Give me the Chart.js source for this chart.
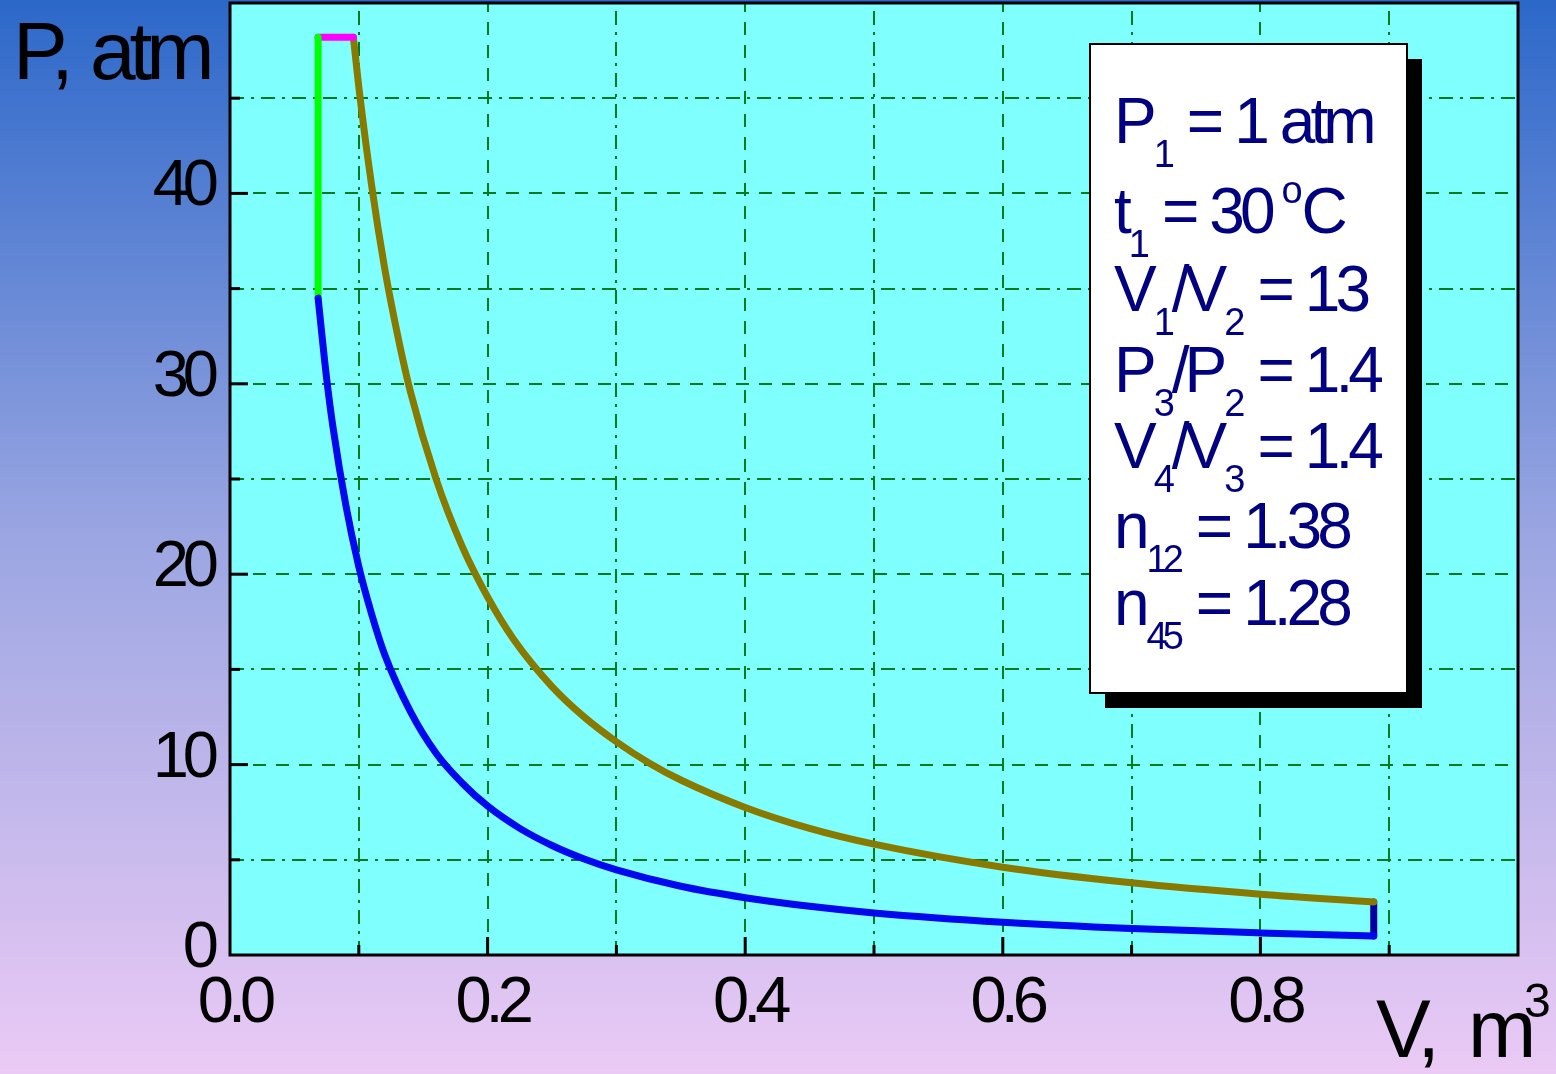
<!DOCTYPE html>
<html>
<head>
<meta charset="utf-8">
<script src="https://cdn.jsdelivr.net/npm/chart.js@4"></script>
<style>
  html, body { margin: 0; padding: 0; background: #fff; }
  canvas { display: block; }
</style>
</head>
<body>
<canvas id="pvChart" width="1556" height="1074"></canvas>
<script>
// 1-2 polytropic compression (n = 1.38), volume in m3, pressure in atm
const compressionV = [0.0684, 0.075, 0.08, 0.09, 0.1, 0.11, 0.12, 0.14, 0.16, 0.18, 0.2, 0.225, 0.25, 0.275, 0.3, 0.35, 0.4, 0.45, 0.5, 0.6, 0.7, 0.8, 0.888];
const compressionP = [34.5, 30.3, 27.7, 23.6, 20.4, 17.9, 15.8, 12.8, 10.6, 9.05, 7.82, 6.65, 5.75, 5.04, 4.47, 3.61, 3.01, 2.56, 2.21, 1.72, 1.39, 1.16, 1.0];
// 2-3 constant volume heat addition
const isochoricV = [0.0684, 0.0684];
const isochoricP = [34.5, 48.2];
// 3-4 constant pressure heat addition
const isobaricV = [0.0684, 0.0958];
const isobaricP = [48.2, 48.2];
// 4-5 polytropic expansion (n = 1.28)
const expansionV = [0.0958, 0.1, 0.11, 0.12, 0.13, 0.14, 0.16, 0.18, 0.2, 0.22, 0.25, 0.275, 0.3, 0.325, 0.35, 0.4, 0.45, 0.5, 0.6, 0.7, 0.8, 0.888];
const expansionP = [48.2, 45.6, 40.4, 36.1, 32.6, 29.6, 25.0, 21.5, 18.8, 16.6, 14.1, 12.5, 11.2, 10.1, 9.19, 7.75, 6.65, 5.82, 4.61, 3.79, 3.19, 2.78];
// 5-1 exhaust at constant volume
const exhaustV = [0.888, 0.888];
const exhaustP = [2.78, 1.0];

// grid and ticks
const xMajor = [0.2, 0.4, 0.6, 0.8];
const xMinor = [0.1, 0.3, 0.5, 0.7, 0.9];
const yMajor = [10, 20, 30, 40];
const yMinor = [5, 15, 25, 35, 45];

const legendLines = [
  [['P', 0], ['1', 1], [' = 1 atm', 0]],
  [['t', 0], ['1', 1], [' = 30 ', 0], ['o', 2], ['C', 0]],
  [['V', 0], ['1', 1], ['/V', 0], ['2', 1], [' = 13', 0]],
  [['P', 0], ['3', 1], ['/P', 0], ['2', 1], [' = 1.4', 0]],
  [['V', 0], ['4', 1], ['/V', 0], ['3', 1], [' = 1.4', 0]],
  [['n', 0], ['12', 1], [' = 1.38', 0]],
  [['n', 0], ['45', 1], [' = 1.28', 0]],
];
const legendBaselines = [143, 233, 311, 392, 468, 548, 625];

const FONT = '"Liberation Sans", Arial, sans-serif';
const toPoints = (xs, ys) => xs.map((x, i) => ({ x, y: ys[i] }));

const lineSet = (label, xs, ys, color) => ({
  label,
  data: toPoints(xs, ys),
  borderColor: color,
  backgroundColor: color,
  borderWidth: 7,
  showLine: true,
  pointRadius: 0,
  fill: false,
  cubicInterpolationMode: 'monotone',
  borderCapStyle: 'round',
  borderJoinStyle: 'round',
});

// draw text word by word so the gaps stay wide while letters are packed tight
const spacedText = (ctx, text, x, y, gap) => {
  text.split(' ').forEach((word, i, all) => {
    if (word) {
      ctx.fillText(word, x, y);
      x += ctx.measureText(word).width;
    }
    if (i < all.length - 1) x += gap;
  });
  return x;
};

const backdrop = {
  id: 'backdrop',
  beforeDraw(chart) {
    const { ctx, chartArea: a, width, height } = chart;
    const g = ctx.createLinearGradient(0, 0, 0, height);
    g.addColorStop(0, '#2c68c9');
    g.addColorStop(0.5, '#9ba6e2');
    g.addColorStop(1, '#ebcaf5');
    ctx.save();
    ctx.fillStyle = g;
    ctx.fillRect(0, 0, width, height);
    ctx.fillStyle = '#80ffff';
    ctx.fillRect(a.left, a.top, a.right - a.left, a.bottom - a.top);

    const xs = chart.scales.x, ys = chart.scales.y;
    ctx.strokeStyle = '#007a1e';
    ctx.lineWidth = 2;
    const vline = (v, dash) => {
      const px = Math.round(xs.getPixelForValue(v));
      ctx.setLineDash(dash);
      ctx.beginPath(); ctx.moveTo(px, a.bottom); ctx.lineTo(px, a.top); ctx.stroke();
    };
    const hline = (v, dash) => {
      const py = Math.round(ys.getPixelForValue(v));
      ctx.setLineDash(dash);
      ctx.beginPath(); ctx.moveTo(a.left, py); ctx.lineTo(a.right, py); ctx.stroke();
    };
    xMajor.forEach((v) => vline(v, [13, 10]));
    xMinor.forEach((v) => vline(v, [14, 7, 3, 7]));
    yMajor.forEach((v) => hline(v, [13, 10]));
    yMinor.forEach((v) => hline(v, [14, 7, 3, 7]));
    ctx.restore();
    ctx.letterSpacing = '-6px';
  },
  afterDatasetsDraw(chart) {
    const { ctx, chartArea: a } = chart;
    const xs = chart.scales.x, ys = chart.scales.y;
    ctx.save();
    // frame
    ctx.strokeStyle = '#000';
    ctx.lineWidth = 3;
    ctx.strokeRect(a.left, a.top, a.right - a.left, a.bottom - a.top);
    // inward tick marks
    const tick = (v, len, axis) => {
      ctx.beginPath();
      if (axis === 'x') {
        const px = xs.getPixelForValue(v);
        ctx.moveTo(px, a.bottom); ctx.lineTo(px, a.bottom - len);
      } else {
        const py = ys.getPixelForValue(v);
        ctx.moveTo(a.left, py); ctx.lineTo(a.left + len, py);
      }
      ctx.stroke();
    };
    xMajor.forEach((v) => tick(v, 18, 'x'));
    xMinor.forEach((v) => tick(v, 10, 'x'));
    yMajor.forEach((v) => tick(v, 18, 'y'));
    yMinor.forEach((v) => tick(v, 10, 'y'));

    // axis titles
    ctx.fillStyle = '#000';
    ctx.textBaseline = 'alphabetic';
    ctx.textAlign = 'left';
    ctx.letterSpacing = '-6px';
    ctx.font = `82px ${FONT}`;
    spacedText(ctx, 'P, atm', 13, 79, 22);
    spacedText(ctx, 'V, m', 1376, 1057, 34);
    ctx.font = `48px ${FONT}`;
    ctx.letterSpacing = '0px';
    ctx.fillText('3', 1524, 1017);

    // parameter box
    const bx = 1090, by = 44, bw = 317, bh = 649;
    ctx.fillStyle = '#000';
    ctx.fillRect(bx + 15, by + 15, bw, bh);
    ctx.fillStyle = '#fff';
    ctx.fillRect(bx, by, bw, bh);
    ctx.lineWidth = 2;
    ctx.strokeRect(bx, by, bw, bh);

    ctx.fillStyle = '#000080';
    ctx.letterSpacing = '-5px';
    legendLines.forEach((parts, i) => {
      let x = 1114;
      const base = legendBaselines[i];
      parts.forEach(([text, kind]) => {
        if (kind === 0) {
          ctx.font = `64px ${FONT}`;
          x = spacedText(ctx, text, x, base, 15);
        } else if (kind === 1) {
          ctx.font = `38px ${FONT}`;
          ctx.fillText(text, x + 2, base + 24);
          x += ctx.measureText(text).width + 4;
        } else {
          ctx.font = `38px ${FONT}`;
          ctx.fillText(text, x - 4, base - 30);
          x += ctx.measureText(text).width;
        }
      });
    });
    ctx.restore();
  },
};

new Chart(document.getElementById('pvChart'), {
  type: 'scatter',
  data: {
    datasets: [
      lineSet('1-2', compressionV, compressionP, '#0008ee'),
      lineSet('2-3', isochoricV, isochoricP, '#00ff00'),
      lineSet('3-4', isobaricV, isobaricP, '#ff00ff'),
      lineSet('4-5', expansionV, expansionP, '#887a00'),
      lineSet('5-1', exhaustV, exhaustP, '#0000a0'),
    ],
  },
  plugins: [backdrop],
  options: {
    responsive: false,
    animation: false,
    devicePixelRatio: 1,
    layout: { padding: { top: 3, right: 38, bottom: 0, left: 0 } },
    plugins: { legend: { display: false }, tooltip: { enabled: false } },
    scales: {
      x: {
        type: 'linear',
        min: 0,
        max: 1,
        grid: { display: false, drawTicks: false },
        border: { display: false },
        ticks: {
          stepSize: 0.2,
          autoSkip: false,
          maxRotation: 0,
          padding: 10,
          labelOffset: 4,
          color: '#000',
          font: { family: FONT, size: 65 },
          callback: (value) => (value > 0.95 ? '' : Number(value).toFixed(1)),
        },
        afterFit(scale) {
          scale.height = 119;
          scale.paddingLeft = 0;
          scale.paddingRight = 0;
        },
      },
      y: {
        type: 'linear',
        min: 0,
        max: 50,
        grid: { display: false, drawTicks: false },
        border: { display: false },
        ticks: {
          stepSize: 10,
          autoSkip: false,
          padding: 17,
          labelOffset: -6,
          color: '#000',
          font: { family: FONT, size: 65 },
          callback: (value) => (value > 45 ? '' : String(value)),
        },
        afterFit(scale) {
          scale.width = 230;
          scale.paddingTop = 0;
          scale.paddingBottom = 0;
        },
      },
    },
  },
});
</script>
</body>
</html>
